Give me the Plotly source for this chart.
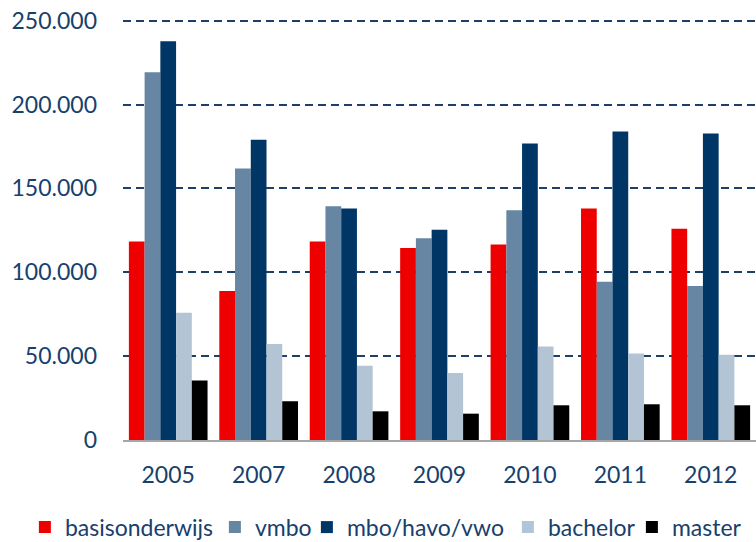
import plotly.graph_objects as go

years = ["2005", "2007", "2008", "2009", "2010", "2011", "2012"]
basisonderwijs = [118300, 88800, 118300, 114500, 116500, 138000, 126000]
vmbo = [219200, 161900, 139400, 120300, 137000, 94400, 91800]
mbo_havo_vwo = [237800, 179000, 138000, 125400, 176800, 184000, 182800]
bachelor = [75900, 57300, 44200, 40000, 55700, 51600, 50800]
master = [35400, 23100, 17100, 15700, 20700, 21300, 20700]

series = [
    ("basisonderwijs", basisonderwijs, "#EE0000", 145),
    ("vmbo", vmbo, "#6686A3", 47),
    ("mbo/havo/vwo", mbo_havo_vwo, "#003665", 156),
    ("bachelor", bachelor, "#B3C4D4", 79),
    ("master", master, "#000000", 76),
]

text_color = "#17406D"
font_family = "Lato"

fig = go.Figure()
for name, vals, col, lw in series:
    fig.add_trace(go.Bar(x=years, y=vals, name=name, legendwidth=lw,
                         marker=dict(color=col, line=dict(width=0))))

fig.update_layout(
    width=756, height=542,
    margin=dict(l=123, r=0, t=19, b=102, autoexpand=False),
    paper_bgcolor="white", plot_bgcolor="white",
    barmode="group", bargap=0.13, bargroupgap=0,
    separators=",.",
    font=dict(family=font_family, color=text_color, size=23),
    showlegend=True,
    legend=dict(
        orientation="h",
        x=-0.155, xanchor="left", y=-0.207, yanchor="middle",
        font=dict(size=23, color=text_color), traceorder="normal",
        itemclick=False, borderwidth=0, bgcolor="rgba(0,0,0,0)",
    ),
    xaxis=dict(
        type="category", showgrid=False, showline=True, linecolor="#A6A6A6", linewidth=2,
        ticks="", tickfont=dict(size=23, color=text_color), ticklabelstandoff=13,
        automargin=False,
    ),
    yaxis=dict(
        range=[0, 251000], tickvals=[0, 50000, 100000, 150000, 200000, 250000],
        tickformat=",d", showgrid=True, gridcolor="#1F3F6B", gridwidth=2, griddash="8px,5px",
        zeroline=False, showline=False, ticks="", tickfont=dict(size=23, color=text_color),
        ticklabelstandoff=25, automargin=False,
    ),
)

fig.write_html("out.html", config={"displayModeBar": False},
               post_script="document.body.style.margin='0';")
